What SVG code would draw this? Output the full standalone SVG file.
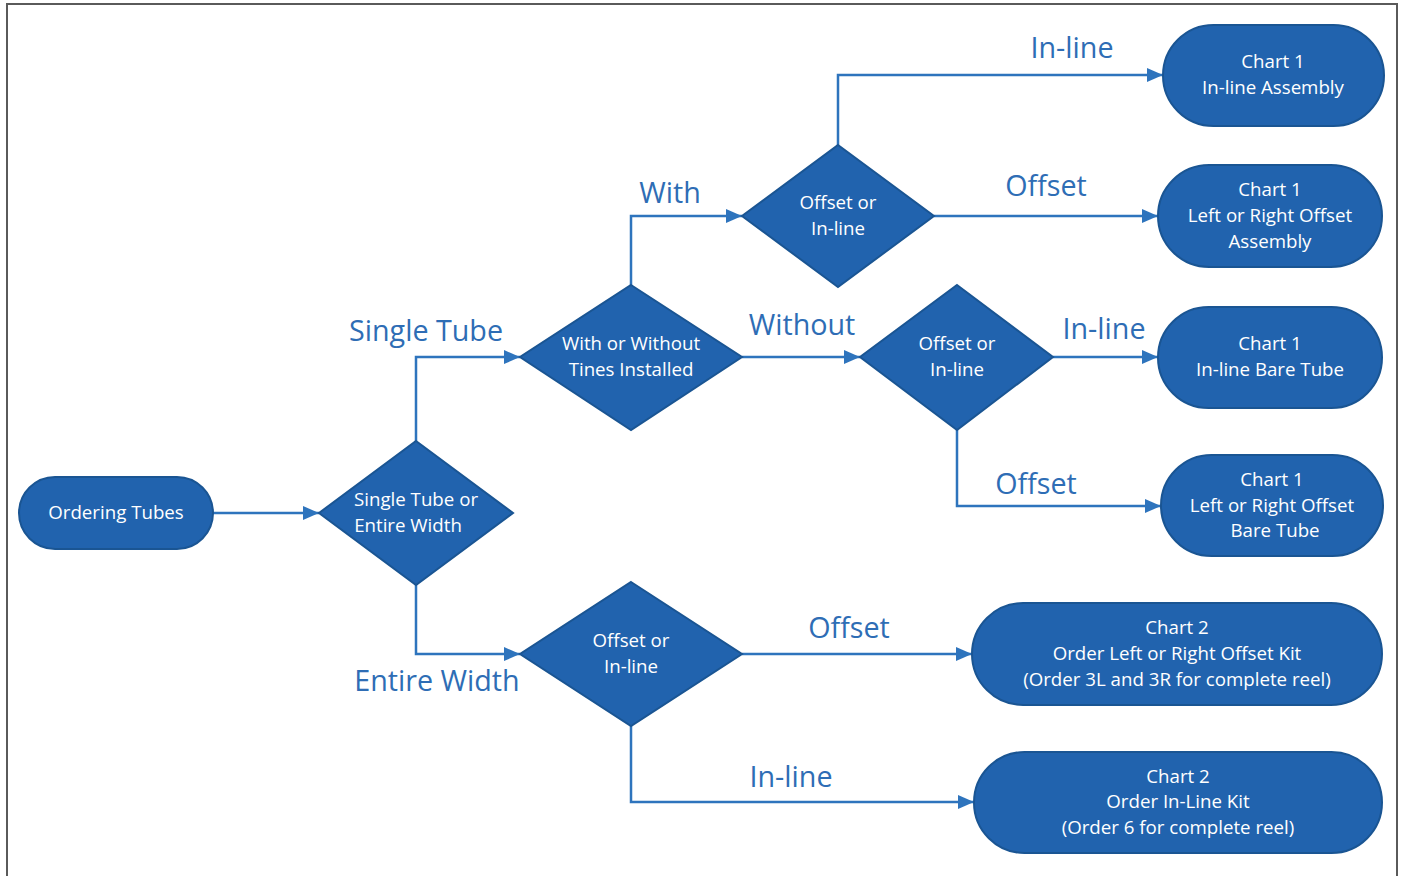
<svg xmlns="http://www.w3.org/2000/svg" width="1403" height="876" viewBox="0 0 1403 876">
<defs>
<style>
.node{fill:#2163ae;stroke:#1a5593;stroke-width:2}
.nt{font-family:"Open Sans","Liberation Sans",sans-serif;font-size:18.7px;fill:#ffffff;text-anchor:middle}
.lbl{font-family:"Open Sans","Liberation Sans",sans-serif;font-size:28.7px;fill:#2e6db5;text-anchor:middle}
.con{fill:none;stroke:#2e74bd;stroke-width:2.5;marker-end:url(#ah)}
</style>
<marker id="ah" markerWidth="16" markerHeight="14" refX="16" refY="7" orient="auto" markerUnits="userSpaceOnUse">
<path d="M0,0 L16,7 L0,14 Z" fill="#2e74bd"/>
</marker>
</defs>
<rect x="0" y="0" width="1403" height="876" fill="#ffffff"/>
<path d="M7,876 L7,4 L1397,4 L1397,876" fill="none" stroke="#5a5a5a" stroke-width="2"/>
<g id="connectors">
<path class="con" d="M213,513 L319,513"/>
<path class="con" d="M416,441 L416,357 L520,357"/>
<path class="con" d="M416,585 L416,654 L520,654"/>
<path class="con" d="M631,285 L631,216 L742,216"/>
<path class="con" d="M742,357 L860,357"/>
<path class="con" d="M838,145 L838,75 L1163,75"/>
<path class="con" d="M934,216 L1158,216"/>
<path class="con" d="M1053,357 L1158,357"/>
<path class="con" d="M957,430 L957,506 L1161,506"/>
<path class="con" d="M742,654 L972,654"/>
<path class="con" d="M631,726 L631,802 L974,802"/>
</g>
<g id="labels">
<text class="lbl" x="1072" y="58">In-line</text>
<text class="lbl" x="1046" y="196">Offset</text>
<text class="lbl" x="670" y="203">With</text>
<text class="lbl" x="426" y="341">Single Tube</text>
<text class="lbl" x="802" y="335">Without</text>
<text class="lbl" x="1104" y="339">In-line</text>
<text class="lbl" x="1036" y="494">Offset</text>
<text class="lbl" x="849" y="638">Offset</text>
<text class="lbl" x="437" y="691">Entire Width</text>
<text class="lbl" x="791" y="787">In-line</text>
</g>
<g id="start">
<rect class="node" x="19" y="477" width="194" height="72" rx="36"/>
<text class="nt" x="116" y="519">Ordering Tubes</text>
</g>
<g id="d1">
<polygon class="node" points="416,441 513,513 416,585 319,513"/>
<text class="nt" x="416" y="506">Single Tube or</text>
<text class="nt" x="408" y="532">Entire Width</text>
</g>
<g id="d2">
<polygon class="node" points="631,285 742,357 631,430 520,357"/>
<text class="nt" x="631" y="350">With or Without</text>
<text class="nt" x="631" y="376">Tines Installed</text>
</g>
<g id="d3">
<polygon class="node" points="838,145 934,216 838,287 742,216"/>
<text class="nt" x="838" y="209">Offset or</text>
<text class="nt" x="838" y="235">In-line</text>
</g>
<g id="d4">
<polygon class="node" points="957,285 1053,357 957,430 860,357"/>
<text class="nt" x="957" y="350">Offset or</text>
<text class="nt" x="957" y="376">In-line</text>
</g>
<g id="d5">
<polygon class="node" points="631,582 742,654 631,726 520,654"/>
<text class="nt" x="631" y="647">Offset or</text>
<text class="nt" x="631" y="673">In-line</text>
</g>
<g id="t1">
<rect class="node" x="1163" y="25" width="221" height="101" rx="50.5"/>
<text class="nt" x="1273" y="68">Chart 1</text>
<text class="nt" x="1273" y="94">In-line Assembly</text>
</g>
<g id="t2">
<rect class="node" x="1158" y="165" width="224" height="102" rx="51"/>
<text class="nt" x="1270" y="196">Chart 1</text>
<text class="nt" x="1270" y="222">Left or Right Offset</text>
<text class="nt" x="1270" y="248">Assembly</text>
</g>
<g id="t3">
<rect class="node" x="1158" y="307" width="224" height="101" rx="50.5"/>
<text class="nt" x="1270" y="350">Chart 1</text>
<text class="nt" x="1270" y="376">In-line Bare Tube</text>
</g>
<g id="t4">
<rect class="node" x="1161" y="455" width="222" height="101" rx="50.5"/>
<text class="nt" x="1272" y="486">Chart 1</text>
<text class="nt" x="1272" y="512">Left or Right Offset</text>
<text class="nt" x="1275" y="537">Bare Tube</text>
</g>
<g id="t5">
<rect class="node" x="972" y="603" width="410" height="102" rx="51"/>
<text class="nt" x="1177" y="634">Chart 2</text>
<text class="nt" x="1177" y="660">Order Left or Right Offset Kit</text>
<text class="nt" x="1177" y="686">(Order 3L and 3R for complete reel)</text>
</g>
<g id="t6">
<rect class="node" x="974" y="752" width="408" height="101" rx="50.5"/>
<text class="nt" x="1178" y="783">Chart 2</text>
<text class="nt" x="1178" y="808">Order In-Line Kit</text>
<text class="nt" x="1178" y="834">(Order 6 for complete reel)</text>
</g>
</svg>
